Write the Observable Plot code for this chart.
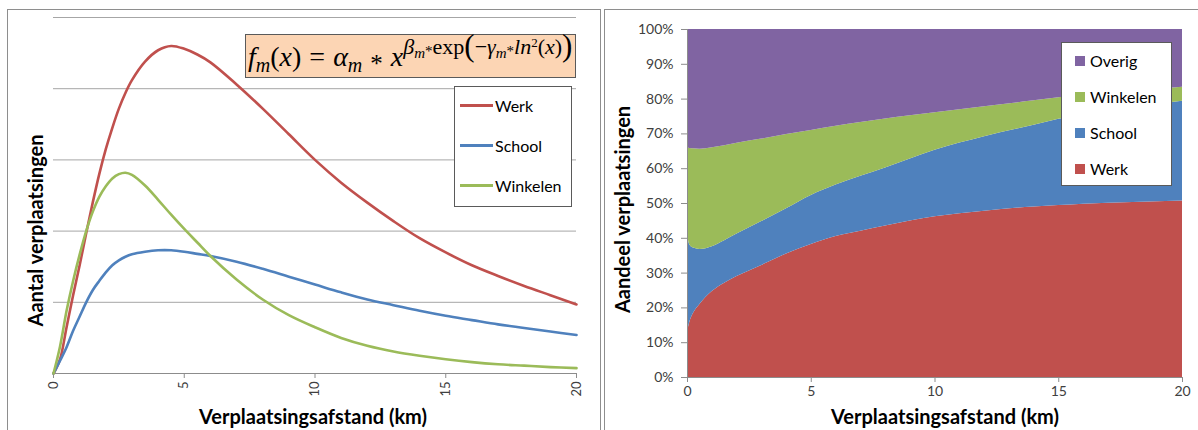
<!DOCTYPE html>
<html>
<head>
<meta charset="utf-8">
<script src="https://cdn.jsdelivr.net/npm/d3@7"></script>
<script src="https://cdn.jsdelivr.net/npm/@observablehq/plot@0.6"></script>
<style>
  body { margin: 0; background: #fff; width: 1198px; height: 430px; overflow: hidden; position: relative; font-family: Lato, sans-serif; }
  .panel { position: absolute; border: 1px solid #8e8e8e; box-sizing: border-box; }
  .chart { position: absolute; top: 0; }
  .legend { position: absolute; background: #fff; border: 1px solid #5a5a5a; box-sizing: border-box; }
  .item { position: absolute; font-size: 16px; color: #000; line-height: 20px; white-space: nowrap; }
  .formula { position: absolute; left: 245px; top: 34px; width: 331px; height: 44px; background: #fcd5b4; border: 1px solid #5a5a5a; box-sizing: border-box;
             font-family: "Liberation Serif", serif; font-size: 28px; line-height: 42px; white-space: nowrap; padding-left: 2px; color: #000; word-spacing: 1px; }
  .formula i { font-style: italic; }
  .sub { font-size: 20px; position: relative; top: 6px; }
  .ast { font-size: 25px; position: relative; top: 6px; }
  .sup { font-size: 22px; position: relative; top: -12px; }
  .sup .sub2 { font-size: 15px; position: relative; top: 4px; }
  .sup .ast2 { font-size: 15px; position: relative; top: 2px; }
  .sup .big { font-size: 31px; position: relative; top: 2px; font-style: normal; }
  .sup .sq { font-size: 13px; position: relative; top: -7px; }
</style>
</head>
<body>
<div class="panel" style="left:7px;top:9px;width:594px;height:440px"></div>
<div class="panel" style="left:604px;top:9px;width:600px;height:440px"></div>
<div id="left-chart" class="chart" style="left:0"></div>
<div id="right-chart" class="chart" style="left:600px"></div>
<div class="formula"><i>f</i><span class="sub"><i>m</i></span>(<i>x</i>) = <i>α</i><span class="sub"><i>m</i></span> <span class="ast">*</span> <i>x</i><span class="sup"><i>β</i><span class="sub2"><i>m</i></span><span class="ast2">*</span>exp<span class="big">(</span>−<i>γ</i><span class="sub2"><i>m</i></span><span class="ast2">*</span><i>ln</i><span class="sq">2</span>(<i>x</i>)<span class="big">)</span></span></div>
<div id="left-legend" class="legend" style="left:454px;top:86px;width:118px;height:121px"></div>
<div id="right-legend" class="legend" style="left:1061px;top:42px;width:111px;height:144px"></div>
<script>
// Distance in km
const distance = [0, 0.25, 0.5, 0.75, 1, 1.25, 1.5, 1.75, 2, 2.25, 2.5, 2.75, 3, 3.5, 4, 4.5, 5, 5.5, 6, 7, 8, 9, 10, 11, 12, 13, 14, 15, 16, 17, 18, 19, 20];
// Number of trips per purpose (relative units)
const werk     = [0, 0.2, 0.65, 1.1, 1.52, 1.97, 2.4, 2.8, 3.15, 3.45, 3.72, 3.94, 4.12, 4.38, 4.54, 4.6, 4.56, 4.48, 4.37, 4.06, 3.72, 3.36, 3.0, 2.68, 2.40, 2.14, 1.90, 1.70, 1.52, 1.37, 1.23, 1.10, 0.97];
const school   = [0, 0.18, 0.37, 0.6, 0.8, 1.0, 1.17, 1.3, 1.42, 1.52, 1.59, 1.64, 1.675, 1.71, 1.73, 1.73, 1.71, 1.68, 1.65, 1.57, 1.47, 1.36, 1.25, 1.14, 1.04, 0.96, 0.88, 0.81, 0.75, 0.69, 0.64, 0.59, 0.54];
const winkelen = [0, 0.38, 0.88, 1.3, 1.67, 2.0, 2.27, 2.48, 2.63, 2.74, 2.8, 2.82, 2.79, 2.64, 2.44, 2.23, 2.03, 1.84, 1.65, 1.32, 1.04, 0.82, 0.65, 0.5, 0.39, 0.31, 0.25, 0.20, 0.16, 0.13, 0.11, 0.09, 0.075];

// Share of trips per purpose (%) by distance
const shareDistance = [0, 0.1, 0.25, 0.5, 1, 1.5, 2, 3, 4, 5, 6, 7, 8, 9, 10, 12, 14, 15, 16, 18, 20];
const werkShare     = [13, 16, 18.5, 21, 24.7, 27.1, 29, 32.2, 35.5, 38.2, 40.5, 42, 43.5, 45, 46.2, 47.8, 49, 49.4, 49.8, 50.3, 50.7];
const schoolShare   = [28, 22, 18.7, 15.8, 12.9, 12.2, 12.2, 12.6, 13, 14.1, 14.8, 15.8, 16.7, 17.8, 19.1, 21.4, 23.5, 24.8, 25.7, 27.3, 28.7];
const winkelenShare = [25, 27.8, 28.5, 28.8, 28.4, 27.3, 26.1, 23.7, 21.3, 18.7, 16.9, 15.5, 14.1, 12.4, 10.8, 8.6, 7, 6.2, 5.6, 4.7, 4];
const overigShare   = [34, 34.2, 34.3, 34.4, 34, 33.4, 32.7, 31.5, 30.2, 29, 27.8, 26.7, 25.7, 24.8, 23.9, 22.2, 20.5, 19.6, 18.9, 17.7, 16.6];

const modes = ["Werk", "School", "Winkelen"];
const stackModes = ["Werk", "School", "Winkelen", "Overig"];
const palette = {Werk: "#c0504d", School: "#4f81bd", Winkelen: "#9bbb59", Overig: "#8064a2"};
const xTicks = [0, 5, 10, 15, 20];
const yPercentTicks = [0, 10, 20, 30, 40, 50, 60, 70, 80, 90, 100];
const xTitle = "Verplaatsingsafstand (km)";

const countSeries = {Werk: werk, School: school, Winkelen: winkelen};
const countRows = modes.flatMap(m => distance.map((x, i) => ({x, v: countSeries[m][i], mode: m})));

const shareSeries = {Werk: werkShare, School: schoolShare, Winkelen: winkelenShare, Overig: overigShare};
const shareRows = stackModes.flatMap(m => shareDistance.map((x, i) => ({x, share: shareSeries[m][i], mode: m})));

const axisGray = "#8c8c8c";
const baseStyle = {fontFamily: "Lato, sans-serif", fontSize: "13px", color: "#404040", background: "transparent", overflow: "visible"};
const titleFont = {fontWeight: "bold", fontSize: 20, fill: "#000", textAnchor: "middle", lineAnchor: "middle"};

const leftChart = Plot.plot({
  width: 600, height: 430,
  marginLeft: 53, marginRight: 24, marginTop: 17, marginBottom: 57,
  style: baseStyle,
  x: {domain: [0, 20]},
  y: {domain: [0, 5], axis: null},
  color: {domain: modes, range: modes.map(m => palette[m])},
  marks: [
    Plot.gridY([1, 2, 3, 4, 5], {stroke: "#a6a6a6", strokeOpacity: 1}),
    Plot.ruleY([0], {stroke: axisGray}),
    Plot.axisX({ticks: xTicks, tickRotate: -90, tickSize: 5, tickPadding: 3, label: null, stroke: axisGray, fontSize: 13}),
    Plot.line(countRows, {x: "x", y: "v", stroke: "mode", strokeWidth: 2.6, curve: "catmull-rom"}),
    Plot.text(["Aantal verplaatsingen"], {frameAnchor: "left", rotate: -90, dx: -17, dy: 35, ...titleFont}),
    Plot.text([xTitle], {frameAnchor: "bottom", dx: -2, dy: 44, ...titleFont})
  ]
});
document.getElementById("left-chart").append(leftChart);

const rightChart = Plot.plot({
  width: 598, height: 430,
  marginLeft: 87, marginRight: 16, marginTop: 29, marginBottom: 53,
  style: baseStyle,
  x: {domain: [0, 20]},
  y: {domain: [0, 100]},
  color: {domain: stackModes, range: stackModes.map(m => palette[m])},
  marks: [
    Plot.areaY(shareRows, {x: "x", y: "share", fill: "mode", z: "mode", order: stackModes, curve: "monotone-x"}),
    Plot.ruleX([0], {stroke: axisGray}),
    Plot.ruleY([0], {stroke: axisGray}),
    Plot.axisX({ticks: xTicks, tickSize: 5, tickPadding: 4, label: null, stroke: axisGray, fontSize: 14}),
    Plot.axisY({ticks: yPercentTicks, tickFormat: d => d + "%", tickSize: 6, tickPadding: 8, label: null, stroke: axisGray, fontSize: 14}),
    Plot.text(["Aandeel verplaatsingen"], {frameAnchor: "left", rotate: -90, dx: -64, dy: 6, ...titleFont}),
    Plot.text([xTitle], {frameAnchor: "bottom", dx: 10, dy: 40, ...titleFont})
  ]
});
document.getElementById("right-chart").append(rightChart);

// Line legend for the trip counts
const leftLegend = document.getElementById("left-legend");
modes.forEach((m, i) => {
  const top = 9 + i * 40;
  const line = document.createElement("div");
  line.style.cssText = `position:absolute;left:5px;top:${top + 8}px;width:33px;height:3px;background:${palette[m]}`;
  const label = document.createElement("div");
  label.className = "item";
  label.style.cssText = `left:40px;top:${top}px`;
  label.textContent = m;
  leftLegend.append(line, label);
});

// Swatch legend for the shares, top to bottom as stacked
const rightLegend = document.getElementById("right-legend");
stackModes.slice().reverse().forEach((m, i) => {
  const top = 8 + i * 36;
  const sw = document.createElement("div");
  sw.style.cssText = `position:absolute;left:13px;top:${top + 5}px;width:10px;height:10px;background:${palette[m]}`;
  const label = document.createElement("div");
  label.className = "item";
  label.style.cssText = `left:28px;top:${top}px`;
  label.textContent = m;
  rightLegend.append(sw, label);
});
</script>
</body>
</html>
